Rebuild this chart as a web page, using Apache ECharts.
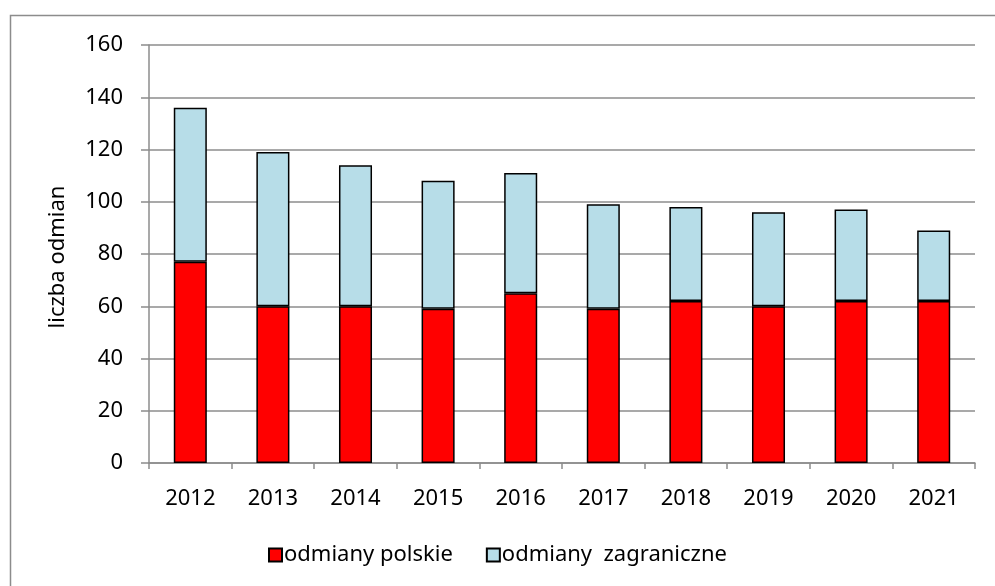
<!DOCTYPE html>
<html><head><meta charset="utf-8">
<script src="https://cdn.jsdelivr.net/npm/echarts@6/dist/echarts.min.js"></script>
<style>html,body{margin:0;padding:0;background:#fff}#c{width:995px;height:586px}</style>
</head><body><div id="c"></div>
<script>
const categories = ['2012','2013','2014','2015','2016','2017','2018','2019','2020','2021'];
const polskie = [77,60,60,59,65,59,62,60,62,62];
const totals = [136,119,114,108,111,99,98,96,97,89];
const zagraniczne = totals.map((t,i)=>t-polskie[i]);
const seriesNames = ['odmiany polskie','odmiany  zagraniczne'];
const yAxisTitle = 'liczba odmian';
const yTicks = {min:0,max:160,interval:20};

const font = "'Noto Sans', 'Open Sans', sans-serif";
const fs = 22;
const chart = echarts.init(document.getElementById('c'), null, {renderer:'canvas'});
chart.setOption({
  animation:false,
  graphic:[
    {type:'rect',shape:{x:10.5,y:15.5,width:1000,height:600},style:{fill:null,stroke:'#8c8c8c',lineWidth:1.5},silent:true},
    {type:'text',x:58,y:257,rotation:Math.PI/2,silent:true,
      style:{text:yAxisTitle,font:fs+'px '+font,fill:'#000',align:'center',verticalAlign:'middle'}}
  ],
  grid:{left:149,right:20,top:45,bottom:123,containLabel:false},
  legend:{top:539,left:263,itemWidth:13,itemHeight:13,itemGap:33,icon:'rect',
    textStyle:{fontFamily:font,fontSize:fs,color:'#000',padding:[0,0,0,-3]},
    data:seriesNames},
  xAxis:{type:'category',data:categories,
    axisLine:{lineStyle:{color:'#8c8c8c',width:1.5}},
    axisTick:{show:true,alignWithLabel:false,length:6,lineStyle:{color:'#8c8c8c',width:1.5}},
    axisLabel:{fontFamily:font,fontSize:fs,color:'#000',margin:25}},
  yAxis:{type:'value',min:yTicks.min,max:yTicks.max,interval:yTicks.interval,
    axisLine:{show:true,lineStyle:{color:'#8c8c8c',width:1.5}},
    axisTick:{show:true,length:8,lineStyle:{color:'#8c8c8c',width:1.5}},
    splitLine:{lineStyle:{color:'#8c8c8c',width:1.5}},
    axisLabel:{fontFamily:font,fontSize:fs,color:'#000',margin:26}},
  series:[
    {name:seriesNames[0],type:'bar',stack:'a',data:polskie,barWidth:'40%',
      itemStyle:{color:'#ff0000',borderColor:'#000',borderWidth:1.5}},
    {name:seriesNames[1],type:'bar',stack:'a',data:zagraniczne,barWidth:'40%',
      itemStyle:{color:'#b7dde8',borderColor:'#000',borderWidth:1.5}}
  ]
});
</script></body></html>
